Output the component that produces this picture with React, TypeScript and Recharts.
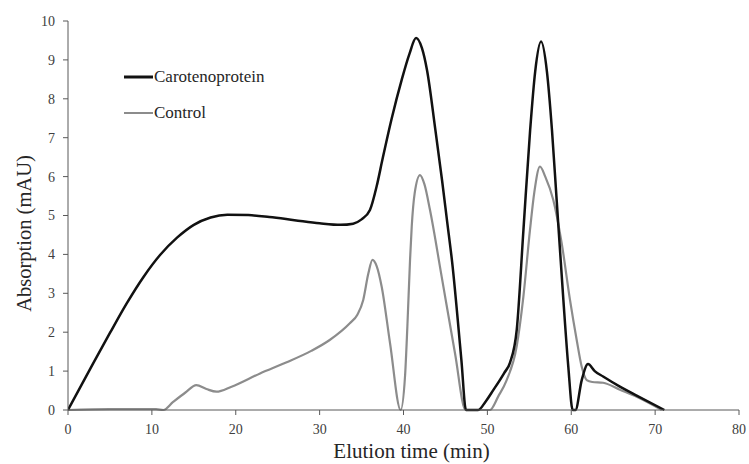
import React from 'react';
import { LineChart, Line, XAxis, YAxis, Legend } from 'recharts';

const caroTime = [0, 1.5, 3, 5, 7, 9, 11, 13, 15, 17, 19, 21.5, 24, 27, 30, 32.5, 34, 35, 36, 36.8, 37.5, 38.6, 39.8, 40.7, 41.5, 42.2, 42.8, 43.8, 44.6, 45.2, 45.8, 46.9, 47.45, 48.9, 49.8, 50.7, 52, 52.7, 53.5, 54.3, 55.1, 55.7, 56.4, 57.1, 57.7, 58.26, 59.06, 59.65, 60.17, 60.5, 61.25, 62, 62.8, 63.8, 65.8, 67.8, 71.1];
const caroValue = [0, 0.6, 1.2, 1.98, 2.74, 3.42, 3.99, 4.43, 4.76, 4.95, 5.02, 5.01, 4.96, 4.88, 4.8, 4.76, 4.79, 4.9, 5.14, 5.75, 6.45, 7.5, 8.5, 9.15, 9.56, 9.3, 8.74, 7.2, 5.9, 4.85, 3.8, 1.29, 0, 0, 0.22, 0.51, 0.95, 1.22, 2.06, 4.63, 7.2, 8.7, 9.47, 8.7, 7.2, 5.4, 2.83, 1.11, 0, 0, 0.77, 1.18, 1.0, 0.86, 0.6, 0.37, 0];

const ctrlTime = [0, 5, 10.5, 11.36, 12.5, 14, 15.3, 16.5, 17.7, 19.5, 22.9, 26, 29, 31.2, 33.6, 34.5, 35.2, 35.8, 36.3, 36.8, 37.4, 38.4, 39.66, 40.18, 40.46, 40.78, 40.98, 41.33, 41.97, 42.5, 43.16, 44.55, 46.14, 47.4, 50.3, 51.3, 52.3, 53.49, 54.29, 55.08, 55.6, 56.27, 56.9, 57.86, 58.86, 59.85, 60.65, 61.25, 61.84, 62.5, 63.8, 65.8, 67.8, 70.8];
const ctrlValue = [0, 0.02, 0.02, 0, 0.2, 0.45, 0.64, 0.54, 0.47, 0.6, 0.94, 1.22, 1.52, 1.8, 2.23, 2.45, 2.83, 3.5, 3.86, 3.7, 3.17, 1.71, 0, 0.86, 2.14, 3.86, 4.71, 5.57, 6.04, 5.8, 5.14, 3.43, 1.46, 0, 0, 0.35, 0.77, 1.63, 2.91, 4.63, 5.6, 6.26, 6.0, 5.4, 4.29, 2.83, 1.8, 1.11, 0.77, 0.72, 0.7, 0.52, 0.34, 0];

const xTicks = [0, 10, 20, 30, 40, 50, 60, 70, 80];
const yTicks = [0, 1, 2, 3, 4, 5, 6, 7, 8, 9, 10];

const seriesNames = ['Carotenoprotein', 'Control'];
const seriesColors = ['#111111', '#8c8c8c'];

const caroData = caroTime.map((t, i) => ({ t, v: caroValue[i] }));
const ctrlData = ctrlTime.map((t, i) => ({ t, v: ctrlValue[i] }));

const FONT = '"Liberation Serif", "Times New Roman", serif';

const LegendContent = () => (
  <div style={{ fontFamily: FONT, fontSize: 17, color: '#262626' }}>
    {seriesNames.map((n, i) => (
      <div key={n} style={{ display: 'flex', alignItems: 'center', height: 36 }}>
        <svg width={29} height={6} style={{ marginRight: 1 }}>
          <line x1={0} y1={3} x2={29} y2={3} stroke={seriesColors[i]} strokeWidth={i === 0 ? 3 : 2} />
        </svg>
        <span>{n}</span>
      </div>
    ))}
  </div>
);

export default function App() {
  return (
    <div style={{ position: 'absolute', left: 0, top: 0, width: 749, height: 464, background: '#fff' }}>
      <LineChart width={749} height={464} margin={{ top: 21, right: 10, bottom: 0, left: 0 }}>
        <XAxis
          dataKey="t"
          type="number"
          domain={[0, 80]}
          ticks={xTicks}
          allowDataOverflow
          height={54}
          stroke="#595959"
          tickSize={5}
          tickMargin={9}
          tick={{ fill: '#404040', fontSize: 14, fontFamily: FONT }}
          label={{
            content: (props: any) => {
              const vb = props.viewBox || {};
              return (
                <text x={vb.x + vb.width / 2 + 8} y={vb.y + vb.height - 6} textAnchor="middle" fontFamily={FONT} fontSize={21} fill="#262626">
                  Elution time (min)
                </text>
              );
            },
          }}
        />
        <YAxis
          type="number"
          domain={[0, 10]}
          ticks={yTicks}
          width={68}
          stroke="#595959"
          tickSize={5}
          tickMargin={8}
          tick={{ fill: '#404040', fontSize: 14, fontFamily: FONT }}
          label={{
            content: (props: any) => {
              const vb = props.viewBox || {};
              const cx = vb.x + 24;
              const cy = vb.y + vb.height / 2 + 18;
              return (
                <text x={cx} y={cy} transform={`rotate(-90 ${cx} ${cy})`} textAnchor="middle" dominantBaseline="central" fontFamily={FONT} fontSize={20.5} fill="#262626">
                  Absorption (mAU)
                </text>
              );
            },
          }}
        />
        <Legend
          layout="vertical"
          align="center"
          verticalAlign="middle"
          wrapperStyle={{ left: 124, top: 59, width: 220 }}
          content={<LegendContent />}
        />
        <Line data={ctrlData} dataKey="v" name={seriesNames[1]} type="monotone" stroke={seriesColors[1]} strokeWidth={2.2} dot={false} isAnimationActive={false} />
        <Line data={caroData} dataKey="v" name={seriesNames[0]} type="monotone" stroke={seriesColors[0]} strokeWidth={2.5} dot={false} isAnimationActive={false} />
      </LineChart>
    </div>
  );
}
